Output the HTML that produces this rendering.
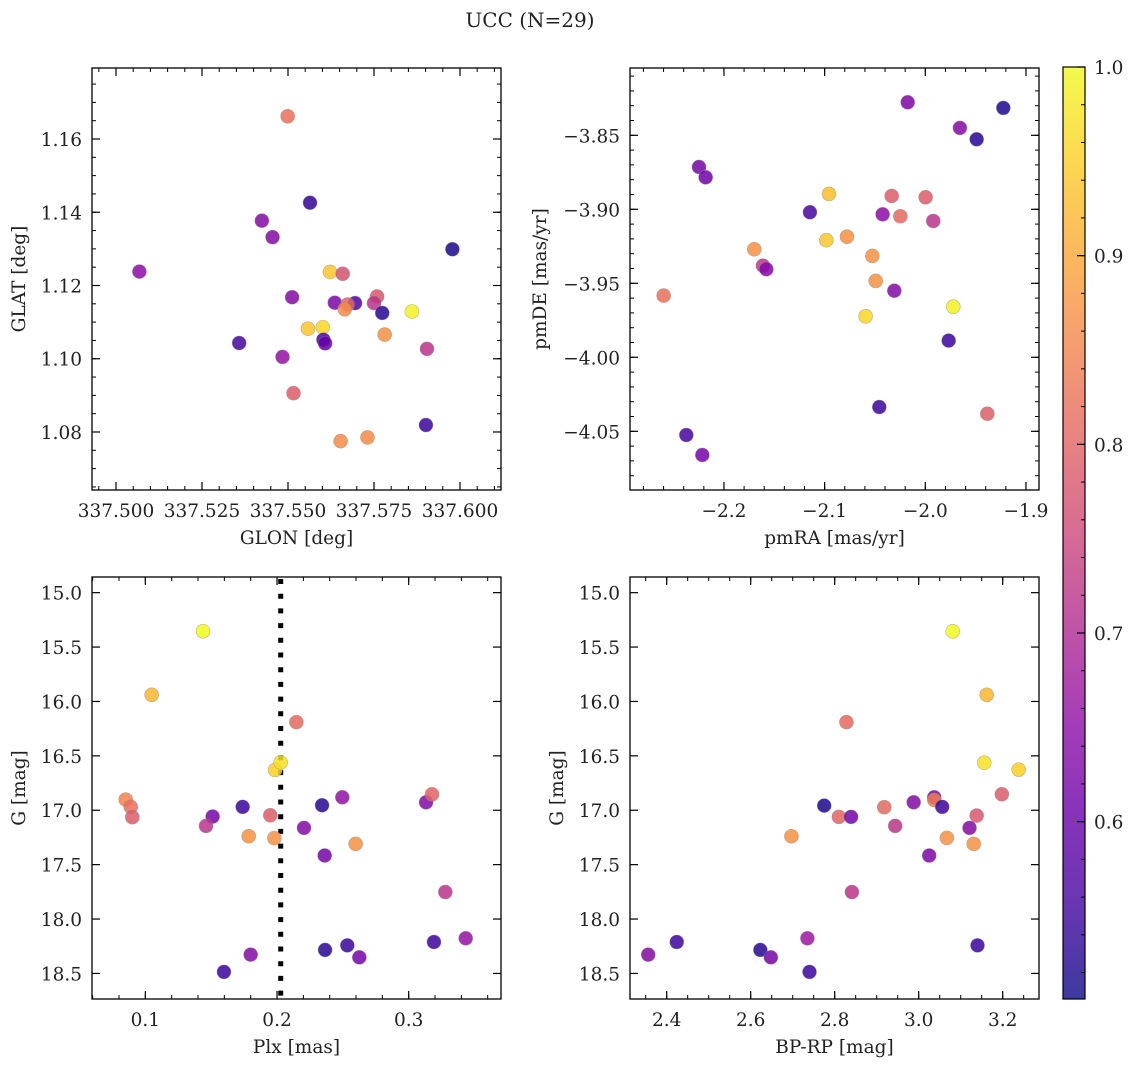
<!DOCTYPE html>
<html><head><meta charset="utf-8"><style>
body{margin:0;background:#fff;}
svg text{font-family:"DejaVu Serif","Liberation Serif",serif;fill:#222;}
</style></head><body>
<svg id="chart" width="1135" height="1067" xmlns="http://www.w3.org/2000/svg">
<defs><linearGradient id="cbg" x1="0" y1="1" x2="0" y2="0"></linearGradient></defs>
<text x="530" y="27" font-size="20" text-anchor="middle">UCC (N=29)</text>
</svg>
<script>
// Panel 1: GLON vs GLAT
const p1X=[337.5499,337.5564,337.5424,337.5455,337.5068,337.5978,337.5622,337.5659,337.5512,337.5759,337.5636,337.5695,337.5673,337.5750,337.5665,337.5774,337.5860,337.5558,337.5601,337.5781,337.5603,337.5608,337.5358,337.5484,337.5904,337.5516,337.5653,337.5731,337.5901];
const p1Y=[1.1662,1.1426,1.1377,1.1332,1.1238,1.1299,1.1237,1.1232,1.1168,1.1170,1.1153,1.1152,1.1148,1.1152,1.1135,1.1125,1.1129,1.1082,1.1086,1.1066,1.1052,1.1042,1.1043,1.1005,1.1027,1.0906,1.0775,1.0785,1.0819];
const p1C=[0.82,0.54,0.64,0.64,0.65,0.52,0.94,0.77,0.64,0.78,0.63,0.57,0.80,0.72,0.86,0.53,0.99,0.94,0.96,0.87,0.56,0.60,0.56,0.66,0.72,0.79,0.86,0.86,0.55];
// Panel 2: pmRA vs pmDE
const p2X=[-2.0175,-1.9225,-1.9656,-1.9490,-2.2248,-2.2182,-2.0957,-2.0334,-1.9997,-2.1146,-2.0424,-2.0248,-1.9921,-2.0983,-2.0778,-2.1699,-2.1613,-2.1579,-2.0526,-2.2599,-2.0493,-2.0308,-1.9722,-2.0593,-1.9768,-2.0457,-1.9384,-2.2374,-2.2215];
const p2Y=[-3.8277,-3.8315,-3.8450,-3.8527,-3.8714,-3.8784,-3.8896,-3.8910,-3.8919,-3.9020,-3.9034,-3.9047,-3.9079,-3.9209,-3.9185,-3.9270,-3.9381,-3.9405,-3.9315,-3.9583,-3.9484,-3.9550,-3.9658,-3.9723,-3.9887,-4.0336,-4.0381,-4.0525,-4.0660];
const p2C=[0.63,0.52,0.64,0.53,0.62,0.61,0.93,0.79,0.79,0.56,0.65,0.81,0.72,0.94,0.87,0.87,0.72,0.64,0.87,0.82,0.87,0.64,0.99,0.96,0.55,0.55,0.79,0.56,0.62];
// Panel 3: Plx vs G
const p3X=[0.1438,0.1048,0.2147,0.1985,0.2028,0.0851,0.0889,0.0901,0.1511,0.1461,0.1739,0.1785,0.1949,0.1980,0.2205,0.2342,0.2496,0.2362,0.2597,0.3132,0.3177,0.3278,0.3433,0.3192,0.2534,0.2365,0.2625,0.1800,0.1597];
const p3Y=[15.355,15.939,16.190,16.630,16.560,16.902,16.969,17.064,17.058,17.144,16.969,17.239,17.046,17.257,17.162,16.954,16.881,17.416,17.309,16.927,16.853,17.752,18.177,18.211,18.242,18.284,18.352,18.327,18.486];
const p3C=[1.00,0.92,0.81,0.95,0.97,0.85,0.82,0.79,0.62,0.72,0.55,0.87,0.79,0.87,0.64,0.53,0.66,0.62,0.87,0.64,0.80,0.72,0.66,0.55,0.55,0.53,0.62,0.64,0.55];
// Panel 4: BP-RP vs G
const p4X=[3.081,3.162,2.828,3.156,3.238,3.198,3.037,3.037,2.775,2.918,2.988,3.056,2.810,2.839,2.944,3.138,3.121,2.697,3.067,3.131,3.025,2.841,2.735,2.424,3.140,2.623,2.648,2.356,2.740];
const p4Y=[15.355,15.939,16.190,16.563,16.627,16.853,16.881,16.905,16.957,16.972,16.927,16.969,17.061,17.061,17.144,17.049,17.162,17.239,17.254,17.309,17.416,17.752,18.177,18.211,18.242,18.284,18.352,18.327,18.486];
const p4C=[1.00,0.92,0.81,0.97,0.95,0.79,0.62,0.84,0.52,0.81,0.64,0.55,0.80,0.62,0.72,0.78,0.64,0.87,0.87,0.87,0.63,0.72,0.67,0.55,0.55,0.53,0.62,0.64,0.55];
const p1XT=[337.500,337.525,337.550,337.575,337.600];
const p1XL=["337.500","337.525","337.550","337.575","337.600"];
const p1YT=[1.08,1.10,1.12,1.14,1.16];
const p1YL=["1.08","1.10","1.12","1.14","1.16"];
const p2XT=[-2.2,-2.1,-2.0,-1.9];
const p2XL=["\u22122.2","\u22122.1","\u22122.0","\u22121.9"];
const p2YT=[-4.05,-4.00,-3.95,-3.90,-3.85];
const p2YL=["\u22124.05","\u22124.00","\u22123.95","\u22123.90","\u22123.85"];
const p3XT=[0.1,0.2,0.3];
const p3XL=["0.1","0.2","0.3"];
const gYT=[15.0,15.5,16.0,16.5,17.0,17.5,18.0,18.5];
const gYL=["15.0","15.5","16.0","16.5","17.0","17.5","18.0","18.5"];
const p4XT=[2.4,2.6,2.8,3.0,3.2];
const p4XL=["2.4","2.6","2.8","3.0","3.2"];
const cbT=[0.6,0.7,0.8,0.9,1.0];
const cbL=["0.6","0.7","0.8","0.9","1.0"];
const plxLine=0.2028;

const NS="http://www.w3.org/2000/svg";
const svg=document.getElementById('chart');
function el(t,a,p){const e=document.createElementNS(NS,t);for(const k in a)e.setAttribute(k,a[k]);(p||svg).appendChild(e);return e;}
const stops=["#0d0887","#41049d","#6a00a8","#8f0da4","#b12a90","#cc4778","#e16462","#f2844b","#fca636","#fcce25","#f0f921"];
function hx(h){return[parseInt(h.substr(1,2),16),parseInt(h.substr(3,2),16),parseInt(h.substr(5,2),16)];}
const CMIN=0.506,CMAX=1.0;
function plasma(v){let t=(v-CMIN)/(CMAX-CMIN);t=Math.max(0,Math.min(1,t));const s=t*10,i=Math.min(9,Math.floor(s)),f=s-i;const a=hx(stops[i]),b=hx(stops[i+1]);return "rgb("+a.map((x,k)=>Math.round(x+(b[k]-x)*f)).join(",")+")";}

function panel(cfg){
  const {name,L,T,R,B,x0,x1,y0,y1,xt,xl,yt,yl,xs,ys,cs,xlab,ylab,yoff,nminX,nminY}=cfg;
  const sx=v=>L+(v-x0)/(x1-x0)*(R-L);
  const sy=v=>T+(y1-v)/(y1-y0)*(B-T);
  const g=el('g',{});
  
  
  const mstepX=(xt[1]-xt[0])/nminX, mstepY=(yt[1]-yt[0])/nminY;
  for(let v=xt[0]-50*mstepX;v<=x1;v+=mstepX){if(v<x0)continue;const x=sx(v);
    const m=el('line',{x1:x,x2:x,y1:B,y2:B-4,stroke:'#000','stroke-width':1},g);
    el('line',{x1:x,x2:x,y1:T,y2:T+4,stroke:'#000','stroke-width':1},g);}
  for(let v=yt[0]-50*mstepY;v<=y1;v+=mstepY){if(v<y0)continue;const y=sy(v);
    const m=el('line',{x1:L,x2:L+4,y1:y,y2:y,stroke:'#000','stroke-width':1},g);
    el('line',{x1:R,x2:R-4,y1:y,y2:y,stroke:'#000','stroke-width':1},g);}
  xt.forEach((v,i)=>{const x=sx(v);
    el('line',{x1:x,x2:x,y1:B,y2:B-8,stroke:'#000','stroke-width':1.2},g);
    el('line',{x1:x,x2:x,y1:T,y2:T+8,stroke:'#000','stroke-width':1.2},g);
    const t=el('text',{x:x,y:B+27,'font-size':18.5,'text-anchor':'middle'},g);t.textContent=xl[i];
    });
  yt.forEach((v,i)=>{const y=sy(v);
    el('line',{x1:L,x2:L+8,y1:y,y2:y,stroke:'#000','stroke-width':1.2},g);
    el('line',{x1:R,x2:R-8,y1:y,y2:y,stroke:'#000','stroke-width':1.2},g);
    const t=el('text',{x:L-10,y:y+7,'font-size':18.5,'text-anchor':'end'},g);t.textContent=yl[i];
    });
  if(cfg.vline!==undefined){const x=sx(cfg.vline);const l=el('line',{x1:x,x2:x,y1:T+2,y2:B,stroke:'#000','stroke-width':5,'stroke-dasharray':'5,9.7'},g);
    }
  xs.forEach((v,i)=>{const c=el('circle',{cx:sx(v),cy:sy(ys[i]),r:7,fill:plasma(cs[i]),'fill-opacity':0.85,stroke:'#888','stroke-opacity':0.6,'stroke-width':0.6},g);
    });
  const fr=el('rect',{x:L,y:T,width:R-L,height:B-T,fill:'none',stroke:'#000','stroke-width':1.3},g);
  
  const xl2=el('text',{x:(L+R)/2,y:B+54,'font-size':18.5,'text-anchor':'middle'},g);xl2.textContent=xlab;
  
  const cx=L-yoff,cy=(T+B)/2;
  const yl2=el('text',{x:cx,y:cy,'font-size':18.5,'text-anchor':'middle',transform:'rotate(-90 '+cx+' '+cy+')'},g);yl2.textContent=ylab;
  
}
panel({name:'glon-glat',L:92,T:68,R:501,B:490,x0:337.49302,x1:337.61192,y0:1.06416,y1:1.17939,xt:p1XT,xl:p1XL,yt:p1YT,yl:p1YL,xs:p1X,ys:p1Y,cs:p1C,xlab:'GLON [deg]',ylab:'GLAT [deg]',yoff:67,nminX:5,nminY:4});
panel({name:'proper-motion',L:630,T:68,R:1039,B:490,x0:-2.29334,x1:-1.88706,y0:-4.08966,y1:-3.80453,xt:p2XT,xl:p2XL,yt:p2YT,yl:p2YL,xs:p2X,ys:p2Y,cs:p2C,xlab:'pmRA [mas/yr]',ylab:'pmDE [mas/yr]',yoff:84,nminX:5,nminY:5});
panel({name:'plx-g',L:92,T:577,R:501,B:999,x0:0.0595,x1:0.3701,y0:-18.735,y1:-14.856,xt:p3XT,xl:p3XL,yt:gYT.map(v=>-v),yl:gYL,xs:p3X,ys:p3Y.map(v=>-v),cs:p3C,xlab:'Plx [mas]',ylab:'G [mag]',vline:plxLine,yoff:67,nminX:5,nminY:5});
panel({name:'cmd',L:630,T:577,R:1039,B:999,x0:2.31262,x1:3.28643,y0:-18.735,y1:-14.856,xt:p4XT,xl:p4XL,yt:gYT.map(v=>-v),yl:gYL,xs:p4X,ys:p4Y.map(v=>-v),cs:p4C,xlab:'BP-RP [mag]',ylab:'G [mag]',yoff:67,nminX:4,nminY:5});

const grad=document.getElementById('cbg');
stops.forEach((s,i)=>el('stop',{offset:(i*10)+'%','stop-color':s},grad));
const cbT0=67,cbB=999,cbL0=1063,cbR=1085;
const cy=v=>cbB-(v-CMIN)/(CMAX-CMIN)*(cbB-cbT0);
const cb=el('rect',{x:cbL0,y:cbT0,width:cbR-cbL0,height:cbB-cbT0,fill:'url(#cbg)','fill-opacity':0.8,stroke:'#000','stroke-width':1.2});


for(let v=0.52;v<=1.0001;v+=0.02){const y=cy(v);el('line',{x1:cbR,x2:cbR-4,y1:y,y2:y,stroke:'#000','stroke-width':1});}
cbT.forEach((v,i)=>{const y=cy(v);el('line',{x1:cbR,x2:cbR-8,y1:y,y2:y,stroke:'#000','stroke-width':1.2});
  const t=el('text',{x:cbR+9,y:y+7,'font-size':18.5},svg);t.textContent=cbL[i];
  });
</script>
</body></html>
